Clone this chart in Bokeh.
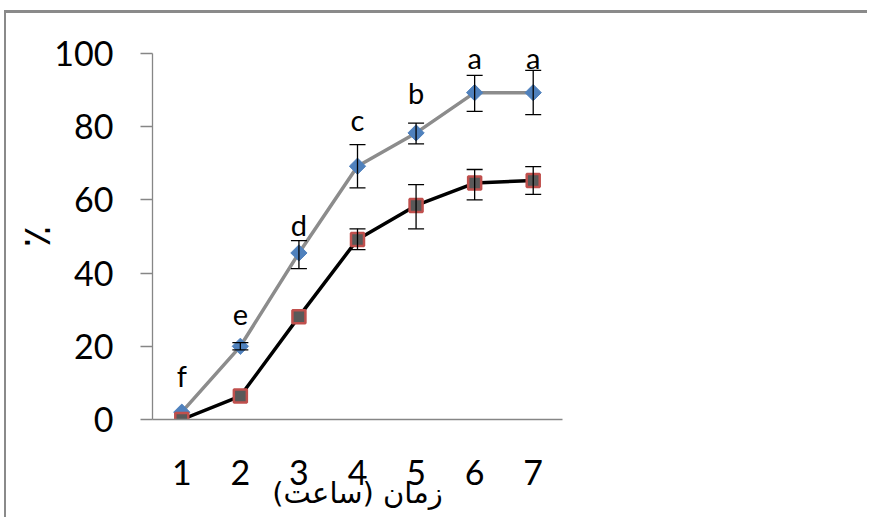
from bokeh.plotting import figure
from bokeh.models import (ColumnDataSource, Whisker, TeeHead, FixedTicker, Range1d)
from bokeh.embed import file_html
from bokeh.resources import INLINE
from bokeh.core.properties import value

# ---- data ----
hours = [1, 2, 3, 4, 5, 6, 7]
series_a = [2, 20, 45.5, 69.2, 78.3, 89.3, 89.3]
series_a_upper = [2, 21, 48.9, 75.1, 81.0, 94.0, 95.4]
series_a_lower = [2, 19, 41.2, 63.3, 75.3, 84.2, 83.3]
series_b = [0, 6.4, 28.1, 49.2, 58.5, 64.6, 65.3]
series_b_upper = [0, 6.4, 28.1, 52.1, 64.2, 68.3, 69.1]
series_b_lower = [0, 6.4, 28.1, 46.4, 52.1, 60.0, 61.5]
letters = ["f", "e", "d", "c", "b", "a", "a"]
letter_y = [12.0, 28.8, 53.4, 82.1, 89.3, 99.0, 99.0]
y_ticks = [0, 20, 40, 60, 80, 100]
x_title = "زمان (ساعت)"
y_title = "٪"

FONT = "Lato"
AXIS_COLOR = "#868686"

p = figure(width=863, height=507, output_backend="svg", toolbar_location=None,
           x_range=Range1d(0.5, 7.5), y_range=Range1d(0, 100),
           min_border_left=146, min_border_right=307, min_border_top=40,
           min_border_bottom=101)
p.styles = {"border-left": "2px solid #8a8a8a", "border-top": "3px solid #8a8a8a",
            "margin-left": "4px", "margin-top": "10px"}
p.outline_line_color = None
p.grid.grid_line_color = None
p.background_fill_color = "white"
p.border_fill_color = "white"

# x axis
xa = p.xaxis[0]
xa.ticker = FixedTicker(ticks=hours)
xa.axis_line_color = AXIS_COLOR
xa.axis_line_width = 1.3
xa.major_tick_line_color = None
xa.minor_tick_line_color = None
xa.major_label_text_font = FONT
xa.major_label_text_font_size = "34px"
xa.major_label_text_color = "black"
xa.major_label_standoff = 34
xa.axis_label = x_title
xa.axis_label_text_font = "DejaVu Sans"
xa.axis_label_text_font_style = "normal"
xa.axis_label_text_font_size = "29px"
xa.axis_label_text_color = "black"
xa.axis_label_standoff = -12

# y axis
ya = p.yaxis[0]
ya.ticker = FixedTicker(ticks=y_ticks)
ya.axis_line_color = AXIS_COLOR
ya.axis_line_width = 1.3
ya.major_tick_line_color = AXIS_COLOR
ya.major_tick_line_width = 1.3
ya.major_tick_out = 12
ya.major_tick_in = 0
ya.minor_tick_line_color = None
ya.major_label_text_font = FONT
ya.major_label_text_font_size = "34px"
ya.major_label_text_color = "black"
ya.major_label_standoff = 27
ya.axis_label = y_title
ya.axis_label_text_font = "DejaVu Sans"
ya.axis_label_text_font_style = "normal"
ya.axis_label_text_font_size = "40px"
ya.axis_label_text_color = "black"
ya.axis_label_standoff = -8

# lines
src_a = ColumnDataSource(dict(x=hours, y=series_a, up=series_a_upper, lo=series_a_lower))
src_b = ColumnDataSource(dict(x=hours, y=series_b, up=series_b_upper, lo=series_b_lower))
p.line("x", "y", source=src_a, line_color="#8c8c8c", line_width=3.5)
p.line("x", "y", source=src_b, line_color="black", line_width=3.5)

# error bars (only where there is a spread)
def err_source(up, lo):
    xs, us, ls = [], [], []
    for x, u, l in zip(hours, up, lo):
        if u - l > 0.01:
            xs.append(x); us.append(u); ls.append(l)
    return ColumnDataSource(dict(x=xs, up=us, lo=ls))

for up, lo in ((series_a_upper, series_a_lower), (series_b_upper, series_b_lower)):
    es = err_source(up, lo)
    w = Whisker(base="x", upper="up", lower="lo", source=es, dimension="height",
                line_color="black", line_width=1.3, level="overlay",
                upper_head=TeeHead(size=16, line_color="black", line_width=1.3),
                lower_head=TeeHead(size=16, line_color="black", line_width=1.3))
    p.add_layout(w)

# markers
p.scatter("x", "y", source=src_a, marker="square", angle=0.785398, size=11.5,
          fill_color="#4f81bd", line_color="#4f81bd", line_width=1)
p.scatter("x", "y", source=src_b, marker="square", size=13,
          fill_color="#595959", line_color="#c0504d", line_width=2.5)

# significance letters
p.text(x=hours, y=letter_y, text=letters, text_align="center",
       text_baseline="alphabetic", text_font=value(FONT),
       text_font_size="29px", text_color="black")

open("out.html", "w").write(file_html(p, INLINE))
